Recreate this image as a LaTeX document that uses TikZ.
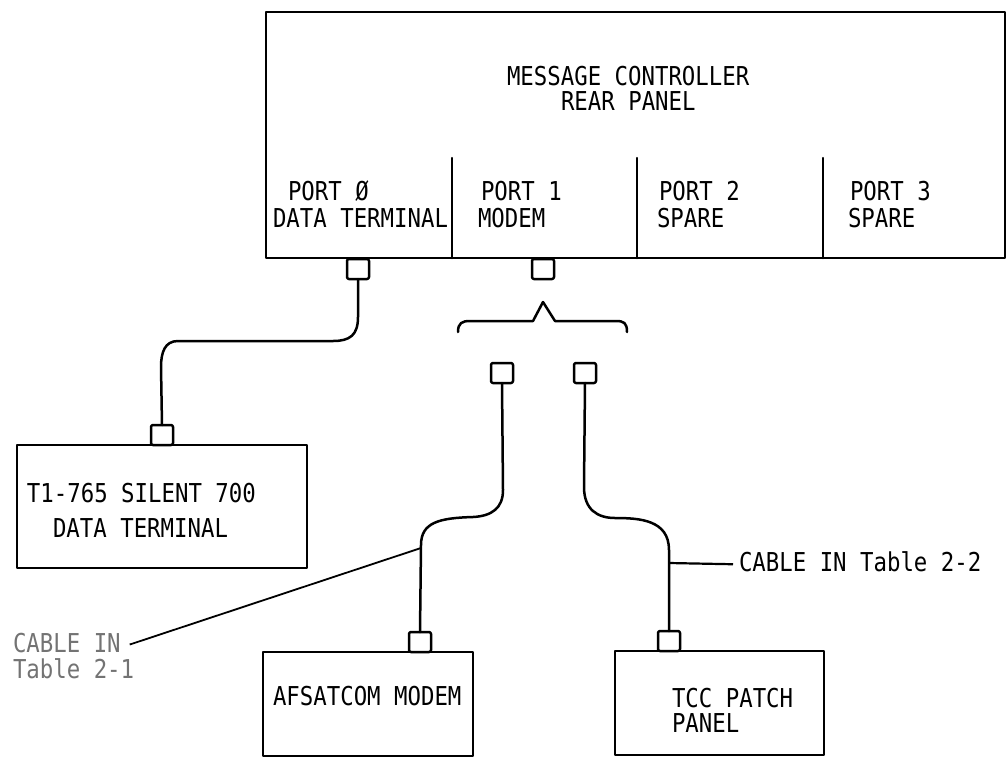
\documentclass[tikz,border=0pt]{standalone}
\usepackage{fontspec}
\newfontfamily\lettering[FakeStretch=0.86]{DejaVu Sans Mono}
\begin{document}
\begin{tikzpicture}[x=1pt,y=-1pt,
  every node/.style={inner sep=0pt,outer sep=0pt},
  ln/.style={line width=2.5pt,line join=round,line cap=round},
  box/.style={draw,ln,rectangle},
  plug/.style={draw,ln,rectangle,rounded corners=2pt,minimum width=22pt,minimum height=20pt},
  txt/.style={anchor=base west,font=\lettering\fontsize{26}{27}\selectfont},
  faint/.style={txt,text=black!55}]
\useasboundingbox (0,0) rectangle (1007,756);

% main panel
\node[box,minimum width=739pt,minimum height=246pt] (mc) at (635.5,135) {};
\draw[ln] (452,158) -- (452,258);
\draw[ln] (637,158) -- (637,258);
\draw[ln] (823,158) -- (823,258);
\node[txt] (t1) at (507,85) {MESSAGE CONTROLLER};
\node[txt] (t2) at (561,110) {REAR PANEL};
\node[txt] (p0a) at (288,200) {PORT Ø};
\node[txt] (p0b) at (273,227) {DATA TERMINAL};
\node[txt] (p1a) at (481,200) {PORT 1};
\node[txt] (p1b) at (478,227) {MODEM};
\node[txt] (p2a) at (659,200) {PORT 2};
\node[txt] (p2b) at (657,227) {SPARE};
\node[txt] (p3a) at (850,200) {PORT 3};
\node[txt] (p3b) at (848,227) {SPARE};

% connectors on panel
\node[plug] (c0) at (358,269) {};
\node[plug] (c1) at (543,269) {};

% brace
\draw[ln] (458,332) .. controls (458,323) and (462,321) .. (470,321) -- (533,321) -- (543,302) -- (555,321) -- (616,321) .. controls (624,321) and (627,323) .. (627,332);

% loose cable ends
\node[plug] (e1) at (502,373) {};
\node[plug] (e2) at (585,373) {};

% T1 terminal
\node[box,minimum width=290pt,minimum height=123pt] (term) at (162,506.5) {};
\node[plug] (tc) at (162,435) {};
\node[txt] (tt1) at (27,502) {T1-765 SILENT 700};
\node[txt] (tt2) at (53,537) {DATA TERMINAL};

% AFSATCOM modem
\node[box,minimum width=210pt,minimum height=104pt] (af) at (368,704) {};
\node[plug] (ac) at (420,642) {};
\node[txt] (aft) at (273,705) {AFSATCOM MODEM};

% TCC patch panel
\node[box,minimum width=209pt,minimum height=104pt] (tcc) at (719.5,703) {};
\node[plug] (pc) at (669,641) {};
\node[txt] (tct1) at (672,707) {TCC PATCH};
\node[txt] (tct2) at (672,732) {PANEL};

% cables
\draw[ln] (c0.south) -- (358,317) .. controls (358,335) and (350,341) .. (333,341) -- (178,341) .. controls (165,341) and (161,352) .. (161,367) -- (tc.north);
\draw[ln] (e1.south) -- (503,490) .. controls (503,508) and (492,516) .. (473,517) .. controls (440,518) and (421,522) .. (421,545) -- (ac.north);
\draw[ln] (e2.south) -- (584,487) .. controls (584,510) and (598,518) .. (615,518) .. controls (640,518) and (669,520) .. (669,550) -- (pc.north);

% labels
\coordinate (j1) at (421,548);
\coordinate (j2) at (669,563);
\node[faint] (l1a) at (13,652) {CABLE IN};
\node[faint] (l1b) at (13,678) {Table 2-1};
\draw[line width=1.8pt] (j1) -- ([xshift=9pt,yshift=-2pt]l1a.east);
\node[txt] (l2) at (739,571) {CABLE IN Table 2-2};
\draw[line width=2.2pt] (j2) -- ([xshift=-6pt,yshift=-3pt]l2.west);
\end{tikzpicture}
\end{document}
